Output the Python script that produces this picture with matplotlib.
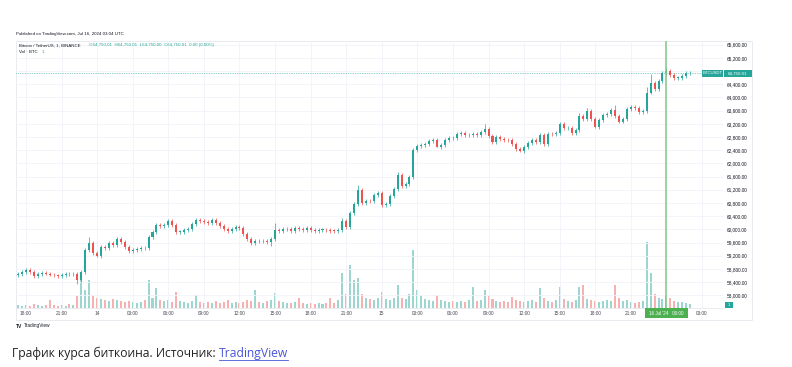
import numpy as np
import matplotlib
matplotlib.use("Agg")
import matplotlib.pyplot as plt
from matplotlib.patches import Rectangle
from matplotlib.lines import Line2D

W, H = 792, 367

# 20-minute candles, time in hours from 13 Jul 18:00 (chart time)
start_hour = -2 / 3
step_hour = 1 / 3

closes = [
    58640, 58700, 58770, 58700, 58590, 58650, 58690, 58660, 58630, 58600,
    58580, 58620, 58650, 58640, 58660, 58450, 58700, 59380, 59600, 59280,
    59200, 59460, 59440, 59580, 59520, 59720, 59620, 59460, 59330, 59360,
    59410, 59430, 59420, 59780, 59930, 60120, 60090, 60140, 60250, 60130,
    59920, 59920, 59980, 60020, 60150, 60270, 60260, 60210, 60200, 60290,
    60190, 60110, 60000, 59940, 60010, 60070, 60050, 59850, 59700, 59600,
    59660, 59640, 59640, 59620, 59700, 59980, 59960, 60010, 60020, 59960,
    60050, 60020, 59990, 60030, 59980, 59960, 59990, 59990, 59980, 59960,
    59950, 59970, 60250, 60080, 60500, 60760, 61200, 60810, 60860, 60850,
    61050, 61100, 60750, 60760, 61000, 61230, 61650, 61320, 61380, 61600,
    62400, 62540, 62560, 62600, 62670, 62720, 62500, 62550, 62710, 62780,
    62760, 62890, 62920, 62850, 62870, 62900, 62870, 62950, 63050, 62830,
    62640, 62800, 62750, 62720, 62700, 62580, 62450, 62380, 62490, 62630,
    62710, 62660, 62850, 62600, 62900, 62880, 62930, 63200, 63070, 63080,
    62920, 63020, 63430, 63350, 63600, 63350, 63090, 63310, 63480, 63510,
    63610, 63450, 63270, 63350, 63650, 63710, 63680, 63570, 63580, 64150,
    64450, 64270, 64500, 64730, 64800, 64690, 64600, 64600, 64640, 64740,
    64750.01,
]
first_open = 58620

# notable wick extremes
high_marks = {18: 59777, 65: 60200, 82: 60333, 86: 61345, 96: 61748, 118: 63195,
              137: 63265, 142: 63518, 144: 63669, 151: 63771, 159: 64326,
              160: 64711, 164: 64914}
low_marks = {15: 58342, 20: 59152, 64: 59505, 92: 60668, 106: 62487,
             127: 62355, 133: 62528, 146: 63063}
wick_pad = 60

volume = [
    3, 2, 3, 2, 4, 3, 2, 3, 8, 3, 2, 3, 2, 4, 3, 12, 31, 18, 28, 12,
    10, 9, 8, 7, 9, 8, 7, 6, 7, 6, 5, 6, 8, 28, 10, 20, 8, 7, 8, 6,
    16, 7, 6, 5, 7, 13, 6, 5, 6, 5, 7, 5, 6, 8, 5, 6, 5, 6, 8, 7,
    18, 6, 5, 7, 8, 15, 7, 6, 5, 5, 6, 10, 5, 4, 5, 4, 5, 4, 5, 10,
    5, 8, 35, 14, 43, 28, 30, 14, 10, 9, 8, 10, 16, 9, 8, 10, 23, 10, 9, 14,
    58, 18, 12, 9, 8, 7, 13, 8, 7, 6, 7, 6, 7, 6, 8, 21, 7, 8, 18, 12,
    9, 7, 6, 7, 6, 11, 8, 7, 6, 7, 8, 6, 20, 10, 7, 6, 8, 21, 9, 7,
    6, 8, 21, 23, 9, 8, 7, 6, 7, 8, 7, 23, 10, 7, 8, 6, 5, 6, 7, 66,
    35, 14, 10, 9, 12, 10, 7, 6, 6, 5, 4,
]

price_ticks = list(range(58000, 65601, 400))
time_ticks = [0, 3, 6, 9, 12, 15, 18, 21, 24, 27, 30, 33, 36, 39, 42, 45, 48, 51, 57]
time_labels = ["18:00", "21:00", "14", "03:00", "06:00", "09:00", "12:00", "15:00",
               "18:00", "21:00", "15", "03:00", "06:00", "09:00", "12:00", "15:00",
               "18:00", "21:00", "03:00"]
cursor_hour = 54
cursor_label = "16 Jul '24   00:00"
last_price = 64750.01

UP = "#26a69a"
DOWN = "#ef5350"
TXT = "#131722"
GRID = "#f0f3fa"


def fx(x):
    return x / W


def fy(y):
    return 1 - y / H


plt.rcParams["font.family"] = ["Liberation Sans", "DejaVu Sans"]
fig = plt.figure(figsize=(W / 100, H / 100), dpi=100)
fig.patch.set_facecolor("white")

# chart pane
L, R, T, B = 16, 723, 41, 308
ax = fig.add_axes([fx(L), fy(B), (R - L) / W, (B - T) / H])
axv = ax.twinx()
ax.set_zorder(axv.get_zorder() + 1)
ax.patch.set_visible(False)

t = start_hour + step_hour * np.arange(len(closes))
c = np.array(closes, dtype=float)
o = np.concatenate([[first_open], c[:-1]])
hi = np.maximum(o, c) + wick_pad
lo = np.minimum(o, c) - wick_pad
for k, v in high_marks.items():
    hi[k] = v
for k, v in low_marks.items():
    lo[k] = v
up = c >= o
cols = np.where(up, UP, DOWN)

ax.vlines(t, lo, hi, colors=cols, lw=0.5, zorder=3)
body = np.maximum(np.abs(c - o), 15)
ax.bar(t, body, bottom=np.minimum(o, c), width=0.17, color=cols, lw=0, zorder=4)

axv.bar(t, volume, width=0.17, color=cols, alpha=0.45, lw=0)
axv.set_ylim(0, B - T)
axv.axis("off")

t_left = (L - 26) / 11.86
t_right = (R - 26) / 11.86
ax.set_xlim(t_left, t_right)
ax.set_ylim(65600 - (B - 44.7) * 30.33, 65600 + (44.7 - T) * 30.33)

ax.set_xticks(time_ticks + [cursor_hour])
ax.set_xticklabels(time_labels + [""])
ax.set_yticks(price_ticks)
# the 64,800 label sits under the last-price box
ax.set_yticklabels(["" if p == 64800 else f"{p:,.2f}" for p in price_ticks])
ax.yaxis.tick_right()
ax.tick_params(axis="x", length=0, pad=2.2, labelsize=3.4, labelcolor="#434651")
ax.tick_params(axis="y", length=0, pad=3, labelsize=3.4, labelcolor=TXT)
ax.grid(True, color=GRID, lw=0.6, zorder=0)
for s in ax.spines.values():
    s.set_visible(False)
ax.spines["bottom"].set_visible(True)
ax.spines["bottom"].set_color("#e0e3eb")
ax.spines["bottom"].set_linewidth(0.5)

# last price line and vertical cursor line
ax.axhline(last_price, color=UP, lw=0.5, ls=(0, (1, 1.5)), zorder=2)
ax.axvline(cursor_hour, color="#81c784", lw=1.1, zorder=5)

# outer frame
fig.add_artist(Rectangle((fx(16), fy(320)), (752 - 16) / W, (320 - 41) / H,
                         transform=fig.transFigure, fill=False,
                         ec="#e0e3eb", lw=0.5))

# header texts
fig.text(fx(16), fy(34.3), "Published on TradingView.com, Jul 16, 2024 03:04 UTC",
         fontsize=3.2, color=TXT, va="center")
fig.text(fx(19), fy(45.3), "Bitcoin / TetherUS, 1, BINANCE", fontsize=3.2,
         color=TXT, va="center")
fig.text(fx(89), fy(45.3),
         "O64,750.01  H64,750.01  L64,750.00  C64,750.01  0.00 (0.00%)",
         fontsize=3.2, color=UP, va="center")
fig.text(fx(19), fy(51.7), "Vol · BTC", fontsize=3.2, color=TXT, va="center")
fig.text(fx(42), fy(51.7), "1", fontsize=3.2, color=UP, va="center")

# price labels on the axis
fig.add_artist(Rectangle((fx(702.3), fy(76.7)), 21 / W, 6.4 / H,
                         transform=fig.transFigure, color=UP, lw=0, zorder=10))
fig.add_artist(Rectangle((fx(724), fy(76.7)), 28 / W, 6.4 / H,
                         transform=fig.transFigure, color=UP, lw=0, zorder=10))
fig.text(fx(712.8), fy(73.5), "BTCUSDT", fontsize=3.0, color="white",
         ha="center", va="center", zorder=11)
fig.text(fx(738), fy(73.5), f"{last_price:,.2f}", fontsize=3.2, color="white",
         ha="center", va="center", zorder=11)
fig.add_artist(Rectangle((fx(725.3), fy(308)), 7.4 / W, 5.7 / H,
                         transform=fig.transFigure, color=UP, lw=0, zorder=10))
fig.text(fx(729), fy(305.2), "1", fontsize=3.0, color="white",
         ha="center", va="center", zorder=11)

# cursor time label
fig.add_artist(Rectangle((fx(645), fy(317.5)), 43.3 / W, 10 / H,
                         transform=fig.transFigure, color="#4caf50", lw=0,
                         zorder=10))
fig.text(fx(666.7), fy(313.3), cursor_label, fontsize=3.3, color="white",
         ha="center", va="center", zorder=11)

# footer logo
fig.text(fx(16), fy(326), "TV", fontsize=3.6, color=TXT, va="center",
         fontweight="bold")
fig.text(fx(24), fy(326), "TradingView", fontsize=3.4, color=TXT, va="center")

# caption
cap = fig.text(fx(12), fy(353), "График курса биткоина. Источник: ",
               fontsize=8.7, color="#222222", va="center", family="Open Sans")
fig.canvas.draw()
bb = cap.get_window_extent()
link = fig.text(bb.x1 / W, fy(353), "TradingView", fontsize=8.7,
                color="#4a56d8", va="center", family="Open Sans")
fig.canvas.draw()
lb = link.get_window_extent()
fig.add_artist(Line2D([lb.x0 / W, lb.x1 / W], [fy(359.5), fy(359.5)],
                      transform=fig.transFigure, color="#4a56d8", lw=0.6))

fig.savefig("out.png", dpi=100)
